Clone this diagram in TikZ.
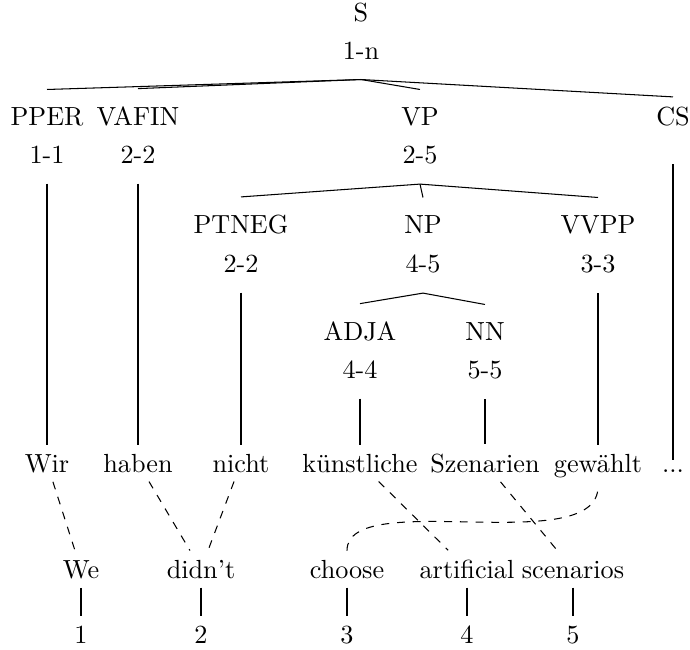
\documentclass[tikz,border=0pt]{standalone}
\usepackage{fontspec}
\begin{document}
\begin{tikzpicture}[x=0.3817pt,y=-0.3817pt,
  tlab/.style={anchor=base,inner ysep=6.53pt},
  tnum/.style={anchor=base,inner ysep=7.63pt},
  tword/.style={anchor=base},
  alink/.style={dashed}]
\useasboundingbox (0,0) rectangle (690,649);
% tree
\node[tlab] (S) at (361,21) {S};
\node[tnum] (Sn) at (361,59) {1-n};
\node[tlab] (PPER) at (47,125) {PPER};
\node[tnum] (PPERn) at (47,163) {1-1};
\node[tlab] (VAFIN) at (138,125) {VAFIN};
\node[tnum] (VAFINn) at (138,163) {2-2};
\node[tlab] (VP) at (420,125) {VP};
\node[tnum] (VPn) at (420,163) {2-5};
\node[tlab] (CS) at (673,125) {CS};
\node[tlab] (PTNEG) at (241,233) {PTNEG};
\node[tnum] (PTNEGn) at (241,272) {2-2};
\node[tlab] (NP) at (423,233) {NP};
\node[tnum] (NPn) at (423,272) {4-5};
\node[tlab] (VVPP) at (598,233) {VVPP};
\node[tnum] (VVPPn) at (598,272) {3-3};
\node[tlab] (ADJA) at (360,340) {ADJA};
\node[tnum] (ADJAn) at (360,378) {4-4};
\node[tlab] (NN) at (485,340) {NN};
\node[tnum] (NNn) at (485,378) {5-5};
% German words
\node[tword] (wir) at (47,472) {Wir};
\node[tword] (haben) at (138,472) {haben};
\node[tword] (nicht) at (241,472) {nicht};
\node[tword] (kuen) at (360,472) {künstliche};
\node[tword] (szen) at (485,472) {Szenarien};
\node[tword] (gew) at (598,472) {gewählt};
\node[tword] (dots) at (673,472) {...};
% English words
\node[tword] (we) at (81,578) {We};
\node[tword] (didnt) at (201,578) {didn't};
\node[tword] (choose) at (347,578) {choose};
\node[tword] (artif) at (467,578) {artificial};
\node[tword] (scen) at (573,578) {scenarios};
% indices
\node[tword] (i1) at (81,643) {1};
\node[tword] (i2) at (201,643) {2};
\node[tword] (i3) at (347,643) {3};
\node[tword] (i4) at (467,643) {4};
\node[tword] (i5) at (573,643) {5};
% tree edges
\draw (Sn.south) -- (PPER.north);
\draw (Sn.south) -- (VAFIN.north);
\draw (Sn.south) -- (VP.north);
\draw (Sn.south) -- ([yshift=-3.05pt]CS.north);
\draw (VPn.south) -- (PTNEG.north);
\draw (VPn.south) -- (NP.north);
\draw (VPn.south) -- (VVPP.north);
\draw (NPn.south) -- (ADJA.north);
\draw (NPn.south) -- (NN.north);
% leaf edges
\draw (PPERn.south) -- (wir.north);
\draw (VAFINn.south) -- (haben.north);
\draw (PTNEGn.south) -- (nicht.north);
\draw (ADJAn.south) -- (kuen.north);
\draw (NNn.south) -- (szen.north);
\draw (VVPPn.south) -- (gew.north);
\draw ([yshift=-8pt]CS.south) -- (dots.north);
% alignment links
\draw[alink] (wir) -- (we);
\draw[alink] (haben) -- (didnt);
\draw[alink] (nicht) -- (didnt);
\draw[alink] (kuen) -- (artif);
\draw[alink] (szen) -- (scen);
\draw[alink] (choose.north) .. controls +(0,-64) and +(0,73) .. (gew.south);
% index edges
\draw (we) -- (i1);
\draw (didnt) -- (i2);
\draw (choose) -- (i3);
\draw (artif) -- (i4);
\draw (scen) -- (i5);
\end{tikzpicture}
\end{document}
